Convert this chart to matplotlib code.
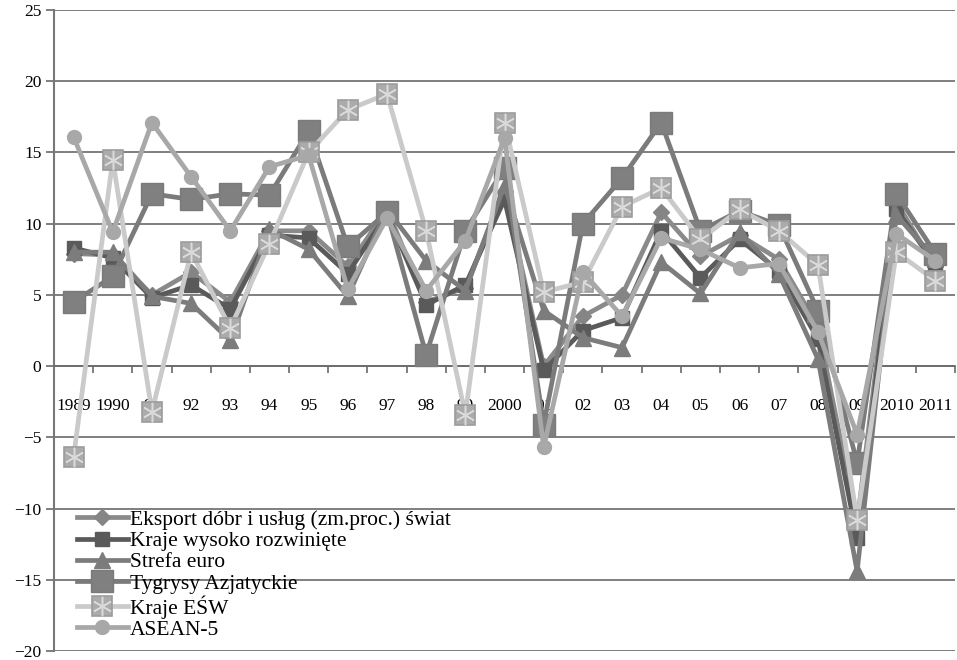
import matplotlib
matplotlib.use("Agg")
import matplotlib.pyplot as plt

plt.rcParams['font.family'] = ['Liberation Serif', 'DejaVu Serif']

years = ["1989", "1990", "91", "92", "93", "94", "95", "96", "97", "98", "99", "2000",
         "01", "02", "03", "04", "05", "06", "07", "08", "09", "2010", "2011"]

eksport = [7.9, 7.8, 5.0, 6.6, 4.5, 9.5, 9.5, 7.0, 11.0, 4.5, 5.5, 12.3,
           0.0, 3.5, 5.0, 10.8, 7.7, 9.2, 7.5, 2.8, -11.0, 11.5, 7.0]
kraje_rozw = [8.3, 7.6, 4.8, 5.7, 4.0, 9.2, 9.0, 6.5, 10.7, 4.3, 5.7, 11.7,
              -0.3, 2.5, 3.4, 9.5, 6.2, 8.9, 6.7, 1.9, -12.1, 11.0, 7.1]
strefa_euro = [8.0, 8.0, 4.9, 4.4, 1.8, 9.6, 8.2, 4.9, 11.0, 7.4, 5.3, 12.7,
               3.9, 2.0, 1.3, 7.3, 5.1, 9.4, 6.5, 0.5, -14.4, 10.6, 7.5]
tygrysy = [4.5, 6.3, 12.1, 11.7, 12.1, 12.0, 16.5, 8.4, 10.8, 0.8, 9.5, 13.9,
           -4.1, 10.0, 13.2, 17.1, 9.5, 10.9, 9.9, 3.9, -6.8, 12.1, 7.9]
kraje_esw = [-6.4, 14.5, -3.2, 8.0, 2.7, 8.6, 15.0, 18.0, 19.1, 9.5, -3.4, 17.1,
             5.2, 5.9, 11.2, 12.5, 8.9, 11.0, 9.5, 7.1, -10.8, 8.0, 6.0]
asean5 = [16.1, 9.4, 17.1, 13.3, 9.5, 14.0, 14.8, 5.4, 10.4, 5.3, 8.8, 16.0,
          -5.7, 6.6, 3.5, 9.0, 8.2, 6.9, 7.2, 2.4, -4.8, 9.3, 7.4]

labels = ["Eksport dóbr i usług (zm.proc.) świat", "Kraje wysoko rozwinięte",
          "Strefa euro", "Tygrysy Azjatyckie", "Kraje EŚW", "ASEAN-5"]

x = [i + 0.5 for i in range(len(years))]

fig = plt.figure(figsize=(9.57, 6.6), dpi=100)
ax = fig.add_axes([0.0564, 0.0136, 0.9416, 0.9712])
ax.set_xlim(0, len(years))
ax.set_ylim(-20, 25)

grid_c = '#6a6a6a'
ax.set_yticks(range(-20, 26, 5))
ax.yaxis.grid(True, color=grid_c, lw=1.2, zorder=0)
ax.set_axisbelow(True)
ax.tick_params(axis='y', length=6, width=1.2, color=grid_c, labelsize=12.5, pad=3)

for s in ['top', 'right']:
    ax.spines[s].set_visible(False)
ax.spines['left'].set_color('#777777')
ax.spines['left'].set_linewidth(1.5)
ax.spines['bottom'].set_position(('data', 0))
ax.spines['bottom'].set_color(grid_c)
ax.spines['bottom'].set_linewidth(1.2)

ax.set_xticks(x)
ax.set_xticklabels(years)
ax.set_xticks(range(1, len(years) + 1), minor=True)
ax.tick_params(axis='x', which='major', length=0, labelsize=12.5, pad=23)
ax.tick_params(axis='x', which='minor', length=5, width=1.2, color=grid_c, direction='out')

lw = 3.4
h1, = ax.plot(x, eksport, color='#8a8a8a', lw=lw, marker='D', ms=8,
              mfc='#858585', mec='#858585', zorder=3)
h2, = ax.plot(x, kraje_rozw, color='#5a5a5a', lw=lw, marker='s', ms=10,
              mfc='#5a5a5a', mec='#5a5a5a', zorder=3)
h3, = ax.plot(x, strefa_euro, color='#7c7c7c', lw=lw, marker='^', ms=12,
              mfc='#7c7c7c', mec='#7c7c7c', zorder=3)
h4, = ax.plot(x, tygrysy, color='#7b7b7b', lw=lw, marker='s', ms=16,
              mfc='#808080', mec='#7a7a7a', zorder=3)
h5, = ax.plot(x, kraje_esw, color='#cacaca', lw=lw, marker='s', ms=15,
              mfc='#ababab', mec='#9c9c9c', mew=1.2, zorder=3)
h5s, = ax.plot(x, kraje_esw, ls='none', marker=(6, 2, 0), ms=14,
               mec='#dadada', mew=1.1, zorder=3)
h6, = ax.plot(x, asean5, color='#a8a8a8', lw=lw, marker='o', ms=10,
              mfc='#a8a8a8', mec='#a8a8a8', zorder=3)

leg = ax.legend([h1, h2, h3, h4, (h5, h5s), h6], labels,
                loc='upper left', bbox_to_anchor=(0.016, 0.234),
                frameon=False, fontsize=15.5, handlelength=2.35,
                handletextpad=0.1, labelspacing=0.06, borderaxespad=0)

fig.savefig('out.png', dpi=100)
